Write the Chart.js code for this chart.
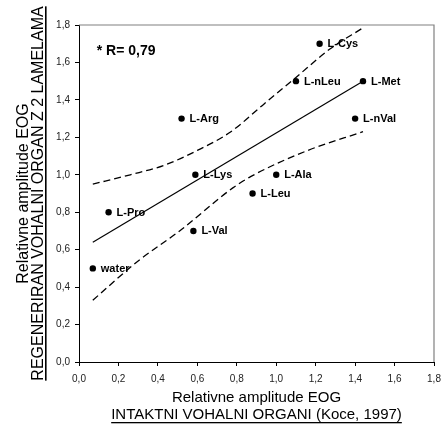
<!DOCTYPE html>
<html>

<head>
    <title>EOG korelacija</title>
    <style>
        body {
            margin: 0;
            background: white;
        }

        #graf {
            display: block;
        }
    </style>
</head>

<body>
    <canvas id="graf" width="443" height="426"></canvas>

    <script src="https://cdn.jsdelivr.net/npm/chart.js"></script>
    <script>
        // Podatki (odčitani z grafa)
        const snovi = ['L-Cys', 'L-nLeu', 'L-Met', 'L-Arg', 'L-nVal', 'L-Lys', 'L-Ala', 'L-Leu', 'L-Pro', 'L-Val', 'water'];
        const intaktni = [1.22, 1.10, 1.44, 0.52, 1.40, 0.59, 1.00, 0.88, 0.15, 0.58, 0.07];
        const regenerirani = [1.70, 1.50, 1.50, 1.30, 1.30, 1.00, 1.00, 0.90, 0.80, 0.70, 0.50];

        // regresijska premica
        const premicaX = [0.07, 1.44];
        const premicaY = [0.64, 1.50];

        // meje zaupanja
        const zgornjaX = [0.07, 0.26, 0.43, 0.60, 0.77, 0.94, 1.10, 1.27, 1.44];
        const zgornjaY = [0.95, 1.00, 1.05, 1.13, 1.23, 1.38, 1.52, 1.67, 1.785];
        const spodnjaX = [0.07, 0.30, 0.51, 0.78, 0.87, 1.16, 1.44];
        const spodnjaY = [0.33, 0.54, 0.70, 0.93, 0.99, 1.13, 1.23];

        const xOznake = ['0,0', '0,2', '0,4', '0,6', '0,8', '1,0', '1,2', '1,4', '1,6', '1,8'];
        const yOznake = ['0,0', '0,2', '0,4', '0,6', '0,8', '1,0', '1,2', '1,4', '1,6', '1,8'];

        const pisava = '"Liberation Sans", Arial, Helvetica, sans-serif';

        function tocke(xs, ys) {
            return xs.map(function (x, i) { return { x: x, y: ys[i] }; });
        }

        // napisi snovi ob tockah, R, okvir
        const napisi = {
            id: 'napisi',
            afterDatasetsDraw: function (chart) {
                const ctx = chart.ctx;
                const meta = chart.getDatasetMeta(3);
                ctx.save();
                ctx.fillStyle = '#000';
                ctx.font = 'bold 11px ' + pisava;
                ctx.textAlign = 'left';
                ctx.textBaseline = 'middle';
                meta.data.forEach(function (pt, i) {
                    ctx.fillText(snovi[i], pt.x + 8, pt.y + 0.5);
                });

                // R
                const xs = chart.scales.x, ys = chart.scales.y;
                ctx.font = 'bold 14px ' + pisava;
                ctx.textBaseline = 'alphabetic';
                ctx.fillText('* R= 0,79', xs.getPixelForValue(0.09), ys.getPixelForValue(1.64));

                // okvir zgoraj in desno
                const a = chart.chartArea;
                ctx.strokeStyle = '#808080';
                ctx.lineWidth = 1.2;
                ctx.beginPath();
                ctx.moveTo(a.left, a.top);
                ctx.lineTo(a.right, a.top);
                ctx.lineTo(a.right, a.bottom);
                ctx.stroke();
                ctx.restore();
            }
        };

        // naslovi osi s podcrtano drugo vrstico
        const naslovi = {
            id: 'naslovi',
            afterDraw: function (chart) {
                const ctx = chart.ctx;
                const a = chart.chartArea;
                ctx.save();
                ctx.fillStyle = '#000';
                ctx.textAlign = 'center';
                ctx.textBaseline = 'alphabetic';

                const cx = (a.left + a.right) / 2;
                ctx.font = '15px ' + pisava;
                ctx.fillText('Relativne amplitude EOG', cx, 402);
                const t2 = 'INTAKTNI VOHALNI ORGANI (Koce, 1997)';
                ctx.fillText(t2, cx, 419);
                let w = ctx.measureText(t2).width;
                ctx.fillRect(cx - w / 2, 422, w, 1.3);

                const cy = (a.top + a.bottom) / 2;
                ctx.font = '16px ' + pisava;
                ctx.translate(28, cy);
                ctx.rotate(-Math.PI / 2);
                ctx.fillText('Relativne amplitude EOG', 0, 0);
                const t3 = 'REGENERIRAN VOHALNI ORGAN Z 2 LAMELAMA';
                ctx.fillText(t3, 0, 15);
                w = ctx.measureText(t3).width;
                ctx.fillRect(-w / 2, 17, w, 1.6);
                ctx.restore();
            }
        };

        const ctxGraf = document.getElementById('graf').getContext('2d');

        const graf = new Chart(ctxGraf, {
            type: 'scatter',
            data: {
                datasets: [
                    {
                        data: tocke(premicaX, premicaY),
                        showLine: true,
                        borderColor: '#000',
                        borderWidth: 1.2,
                        pointRadius: 0
                    },
                    {
                        data: tocke(zgornjaX, zgornjaY),
                        showLine: true,
                        borderColor: '#000',
                        borderWidth: 1.3,
                        borderDash: [7, 4],
                        cubicInterpolationMode: 'monotone',
                        pointRadius: 0
                    },
                    {
                        data: tocke(spodnjaX, spodnjaY),
                        showLine: true,
                        borderColor: '#000',
                        borderWidth: 1.3,
                        borderDash: [7, 4],
                        cubicInterpolationMode: 'monotone',
                        pointRadius: 0
                    },
                    {
                        data: tocke(intaktni, regenerirani),
                        backgroundColor: '#000',
                        borderColor: '#000',
                        pointRadius: 3.2,
                        pointBorderWidth: 0
                    }
                ]
            },
            options: {
                responsive: false,
                animation: false,
                layout: { padding: { top: 25, right: 0, left: 0, bottom: 0 } },
                plugins: {
                    legend: { display: false },
                    tooltip: { enabled: false }
                },
                scales: {
                    x: {
                        type: 'linear',
                        min: 0,
                        max: 1.8,
                        afterFit: function (s) { s.height = 64; s.paddingRight = 9; s.paddingLeft = 0; },
                        grid: { drawOnChartArea: false, tickLength: 4, color: '#000' },
                        border: { color: '#000', width: 1 },
                        ticks: {
                            stepSize: 0.2,
                            padding: 7,
                            maxRotation: 0,
                            color: '#222',
                            font: { family: pisava, size: 10 },
                            callback: function (v) { return xOznake[Math.round(v / 0.2)]; }
                        }
                    },
                    y: {
                        min: 0,
                        max: 1.8,
                        afterFit: function (s) { s.width = 79; },
                        grid: { drawOnChartArea: false, tickLength: 4, color: '#000' },
                        border: { color: '#000', width: 1 },
                        ticks: {
                            stepSize: 0.2,
                            padding: 5,
                            color: '#222',
                            font: { family: pisava, size: 10 },
                            callback: function (v) { return yOznake[Math.round(v / 0.2)]; }
                        }
                    }
                }
            },
            plugins: [napisi, naslovi]
        });
    </script>
</body>

</html>
